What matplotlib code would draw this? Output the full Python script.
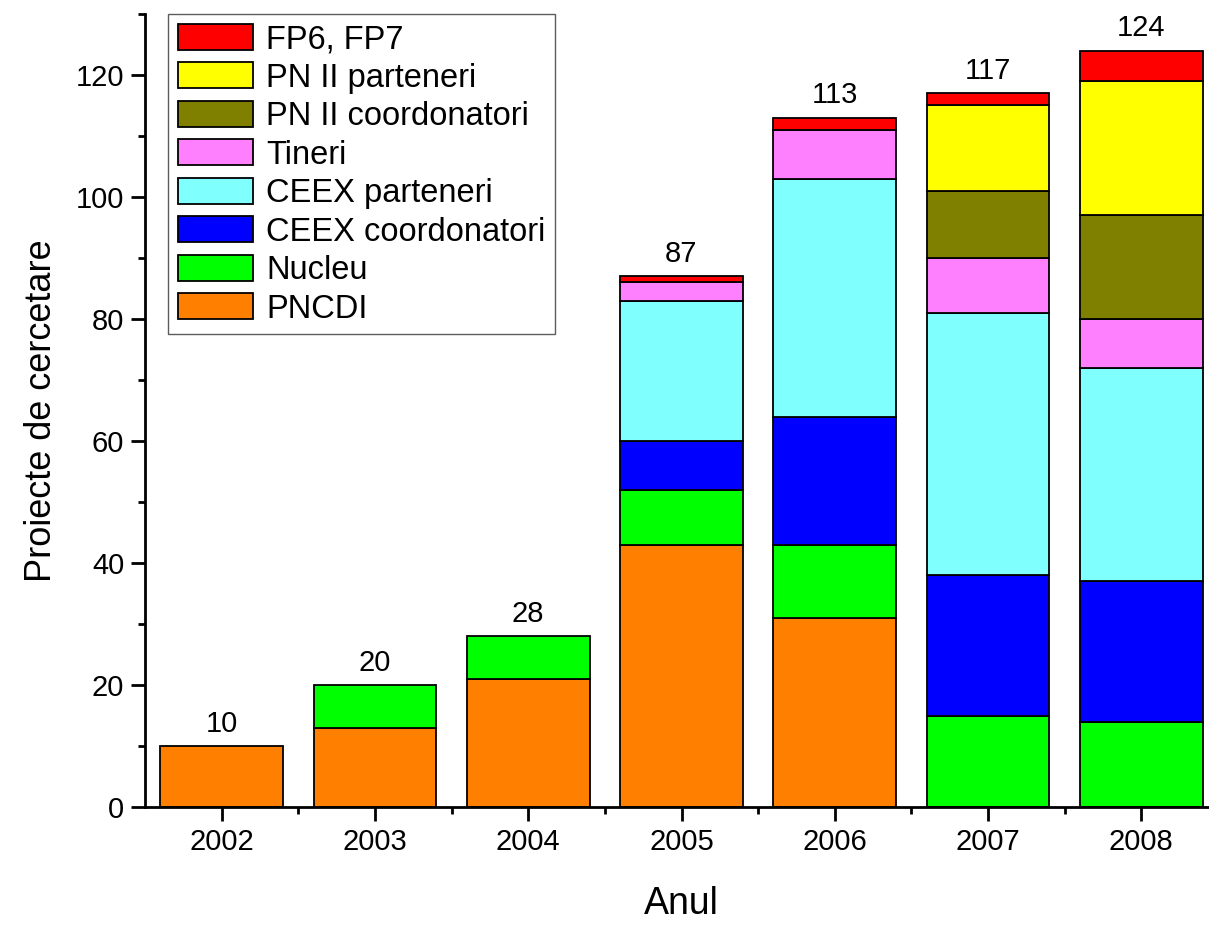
import matplotlib.pyplot as plt
import numpy as np

plt.rcParams['font.family'] = ['Liberation Sans', 'DejaVu Sans']

# Data
years = ['2002', '2003', '2004', '2005', '2006', '2007', '2008']
series = ['PNCDI', 'Nucleu', 'CEEX coordonatori', 'CEEX parteneri', 'Tineri',
          'PN II coordonatori', 'PN II parteneri', 'FP6, FP7']
pncdi = [10, 13, 21, 43, 31, 0, 0]
nucleu = [0, 7, 7, 9, 12, 15, 14]
ceex_coord = [0, 0, 0, 8, 21, 23, 23]
ceex_part = [0, 0, 0, 23, 39, 43, 35]
tineri = [0, 0, 0, 3, 8, 9, 8]
pn2_coord = [0, 0, 0, 0, 0, 11, 17]
pn2_part = [0, 0, 0, 0, 0, 14, 22]
fp = [0, 0, 0, 1, 2, 2, 5]
colors = ['#FF8000', '#00FF00', '#0000FF', '#80FFFF', '#FF80FF',
          '#808000', '#FFFF00', '#FF0000']

values = [pncdi, nucleu, ceex_coord, ceex_part, tineri, pn2_coord, pn2_part, fp]
totals = np.sum(values, axis=0)

fig = plt.figure(figsize=(12.09, 9.27), dpi=100)
ax = fig.add_axes([145 / 1209, 120 / 927, 1073 / 1209, 793 / 927])

x = np.arange(len(years))
bottom = np.zeros(len(years))
containers = []
for name, vals, c in zip(series, values, colors):
    vals = np.array(vals)
    lw = [1.3 if v > 0 else 0 for v in vals]
    bc = ax.bar(x, vals, 0.8, bottom=bottom, color=c, edgecolor='black',
                linewidth=lw, label=name)
    containers.append(bc)
    bottom += vals

ax.bar_label(containers[-1], labels=[str(t) for t in totals], padding=6, fontsize=21)

ax.set_xlim(-0.5, 6.5)
ax.set_ylim(0, 130)
ax.set_xticks(x)
ax.set_xticklabels(years)
ax.set_xticks(x[:-1] + 0.5, minor=True)
ax.set_yticks(np.arange(0, 121, 20))
ax.set_yticks(np.arange(10, 131, 20), minor=True)

for s in ['top', 'right']:
    ax.spines[s].set_visible(False)
for s in ['left', 'bottom']:
    ax.spines[s].set_linewidth(2)

ax.tick_params(which='major', direction='out', length=10, width=2, labelsize=21, pad=5)
ax.tick_params(which='minor', direction='out', length=5, width=2)

ax.set_xlabel('Anul', fontsize=27, labelpad=22)
ax.set_ylabel('Proiecte de cercetare', fontsize=26, labelpad=12)

handles, labels = ax.get_legend_handles_labels()
leg = ax.legend(handles[::-1], labels[::-1], loc='upper left',
                bbox_to_anchor=(23 / 1073, 1.0), borderaxespad=0,
                fontsize=23.5, handlelength=2.3, handleheight=0.85,
                handletextpad=0.4, labelspacing=0.22, borderpad=0.3,
                frameon=True, fancybox=False)
leg.get_frame().set_edgecolor('#333333')
leg.get_frame().set_linewidth(1)
for h in leg.legend_handles:
    h.set_edgecolor('black')
    h.set_linewidth(1.3)

plt.savefig('out.png', dpi=100)
